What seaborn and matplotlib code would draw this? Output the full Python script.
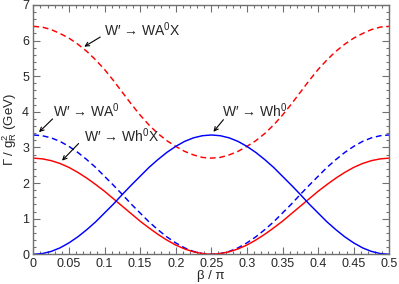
import numpy as np
import pandas as pd
import matplotlib
matplotlib.use('Agg')
import matplotlib.pyplot as plt
from matplotlib.ticker import MultipleLocator, FuncFormatter
import seaborn as sns

# beta / pi sample points, step 0.0125
beta = np.round(np.arange(0, 0.5001, 0.0125), 4)

# W' -> WA0 (blue dashed)
wa0 = [3.35, 3.33, 3.27, 3.17, 3.03, 2.86, 2.66, 2.44, 2.19, 1.94, 1.68,
       1.41, 1.16, 0.91, 0.69, 0.49, 0.32, 0.18, 0.08, 0.02, 0.00,
       0.02, 0.08, 0.18, 0.32, 0.49, 0.69, 0.91, 1.16, 1.41, 1.68,
       1.94, 2.19, 2.44, 2.66, 2.86, 3.03, 3.17, 3.27, 3.33, 3.35]
# W' -> Wh0 (blue solid)
wh0 = [0.00, 0.02, 0.08, 0.18, 0.32, 0.49, 0.69, 0.91, 1.16, 1.41, 1.68,
       1.94, 2.19, 2.44, 2.66, 2.86, 3.03, 3.17, 3.27, 3.33, 3.35,
       3.33, 3.27, 3.17, 3.03, 2.86, 2.66, 2.44, 2.19, 1.94, 1.68,
       1.41, 1.16, 0.91, 0.69, 0.49, 0.32, 0.18, 0.08, 0.02, 0.00]
# W' -> Wh0X (red solid)
wh0x = [2.70, 2.68, 2.63, 2.55, 2.44, 2.30, 2.14, 1.96, 1.77, 1.56, 1.35,
        1.14, 0.93, 0.74, 0.56, 0.40, 0.26, 0.15, 0.07, 0.02, 0.00,
        0.02, 0.07, 0.15, 0.26, 0.40, 0.56, 0.74, 0.93, 1.14, 1.35,
        1.56, 1.77, 1.96, 2.14, 2.30, 2.44, 2.55, 2.63, 2.68, 2.70]
# W' -> WA0X (red dashed)
wa0x = [6.40, 6.38, 6.31, 6.20, 6.07, 5.90, 5.70, 5.46, 5.19, 4.88, 4.55,
        4.22, 3.91, 3.63, 3.39, 3.19, 3.03, 2.89, 2.79, 2.72, 2.70,
        2.72, 2.79, 2.89, 3.03, 3.19, 3.39, 3.63, 3.91, 4.22, 4.55,
        4.88, 5.19, 5.46, 5.70, 5.90, 6.07, 6.20, 6.31, 6.38, 6.40]

df = pd.DataFrame({'beta': beta, 'wa0': wa0, 'wh0': wh0,
                   'wh0x': wh0x, 'wa0x': wa0x})

sns.set_style('ticks')
plt.rcParams['font.family'] = ['Liberation Sans', 'DejaVu Sans']
plt.rcParams['mathtext.fontset'] = 'custom'
plt.rcParams['mathtext.rm'] = 'Liberation Sans'
plt.rcParams['mathtext.it'] = 'Liberation Sans:italic'
plt.rcParams['mathtext.bf'] = 'Liberation Sans:bold'

fig = plt.figure(figsize=(3.99, 2.84), dpi=100)
ax = fig.add_axes([0.0835, 0.1046, 0.8922, 0.8778])

lw = 1.05
sns.lineplot(data=df, x='beta', y='wa0x', color='#ff0000', lw=lw,
             linestyle=(0, (4, 2.5)), ax=ax)
sns.lineplot(data=df, x='beta', y='wa0', color='#0000ff', lw=lw,
             linestyle=(0, (4, 2.5)), ax=ax)
sns.lineplot(data=df, x='beta', y='wh0x', color='#ff0000', lw=lw, ax=ax)
sns.lineplot(data=df, x='beta', y='wh0', color='#0000ff', lw=lw, ax=ax)

ax.set_xlim(0, 0.5)
ax.set_ylim(0, 7)
ax.xaxis.set_major_locator(MultipleLocator(0.05))
ax.xaxis.set_minor_locator(MultipleLocator(0.01))
ax.yaxis.set_major_locator(MultipleLocator(1))
ax.yaxis.set_minor_locator(MultipleLocator(0.2))
ax.xaxis.set_major_formatter(FuncFormatter(lambda v, p: f'{v:g}'))

frame = '#707070'
for s in ax.spines.values():
    s.set_color(frame)
    s.set_linewidth(1.0)
ax.tick_params(which='both', direction='in', top=True, right=True,
               color=frame, labelsize=9)
ax.tick_params(which='major', length=5, width=0.8)
ax.tick_params(which='minor', length=2.5, width=0.8)
ax.tick_params(axis='x', pad=2.5)
ax.tick_params(axis='y', pad=3)

ax.set_xlabel('β / π', fontsize=9.5, labelpad=0.5)
ax.set_ylabel('Γ / g$_{\\mathrm{R}}^{2}$ (GeV)', fontsize=9.5, labelpad=2)

# labels with arrows
labels = ["W′ → WA$^{0}$X", "W′ → WA$^{0}$", "W′ → Wh$^{0}$X", "W′ → Wh$^{0}$"]
text_pos = [(0.0987, 6.12), (0.028, 3.86), (0.0707, 3.16), (0.265, 3.86)]
arrow_tail = [(0.094, 6.10), (0.027, 3.80), (0.0636, 3.11), (0.267, 3.78)]
arrow_head = [(0.0716, 5.83), (0.008, 3.43), (0.0403, 2.63), (0.253, 3.44)]

for lab, tp, tail, head in zip(labels, text_pos, arrow_tail, arrow_head):
    ax.text(tp[0], tp[1], lab, fontsize=10, ha='left', va='baseline')
    ax.annotate('', xy=head, xytext=tail,
                arrowprops=dict(arrowstyle='->', color='black', lw=0.8,
                                shrinkA=0, shrinkB=0,
                                mutation_scale=7))

fig.savefig('out.png', dpi=100)
